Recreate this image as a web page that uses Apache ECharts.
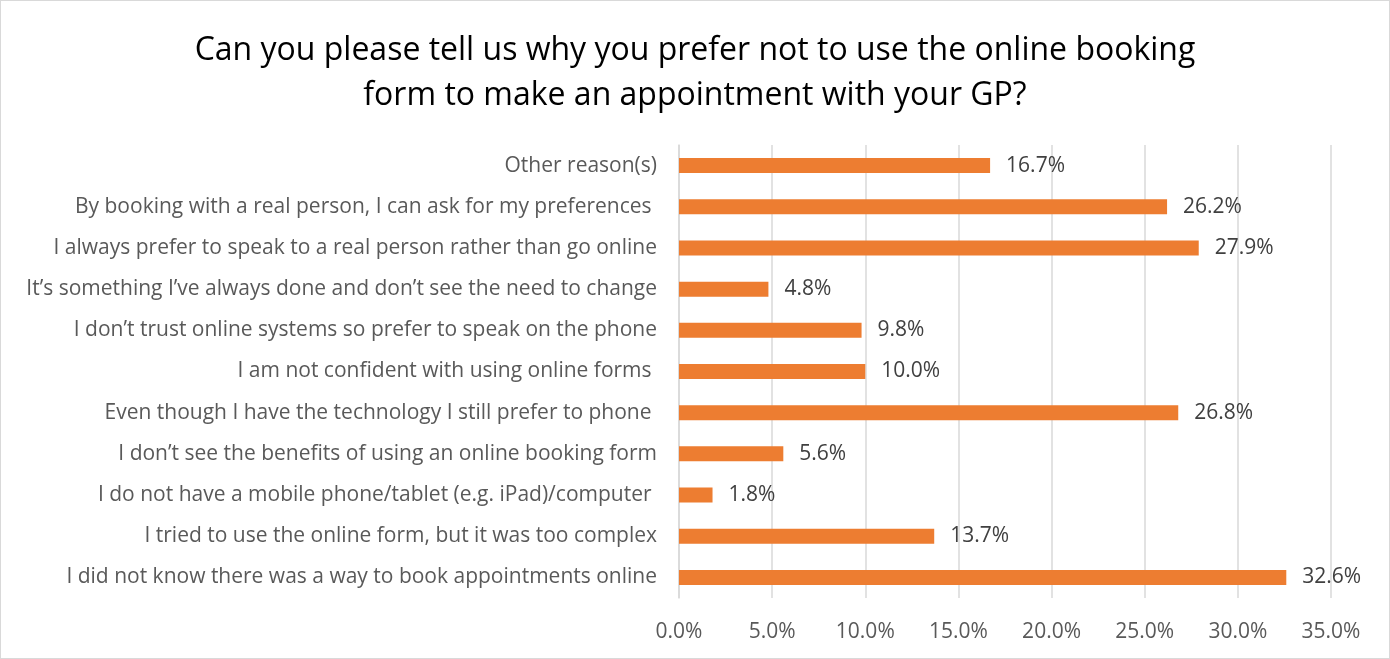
<!DOCTYPE html>
<head>
    <meta charset="utf-8">
    <title>ECharts</title>
    <script src="https://cdn.jsdelivr.net/npm/echarts@6/dist/echarts.min.js"></script>
    <style>
        body { margin: 0; }
        #main { width: 1388px; height: 657px; border: 1px solid #d9d9d9; }
    </style>
</head>
<body>
<div id="main"></div>
<script type="text/javascript">
// categories from bottom to top (as the axis draws them)
var reasons = [
    'I did not know there was a way to book appointments online',
    'I tried to use the online form, but it was too complex',
    'I do not have a mobile phone/tablet (e.g. iPad)/computer ',
    'I don\u2019t see the benefits of using an online booking form',
    'Even though I have the technology I still prefer to phone ',
    'I am not confident with using online forms ',
    'I don\u2019t trust online systems so prefer to speak on the phone',
    'It\u2019s something I\u2019ve always done and don\u2019t see the need to change',
    'I always prefer to speak to a real person rather than go online',
    'By booking with a real person, I can ask for my preferences ',
    'Other reason(s)'
];
var shares = [32.6, 13.7, 1.8, 5.6, 26.8, 10.0, 9.8, 4.8, 27.9, 26.2, 16.7];
var xTicks = [0, 5, 10, 15, 20, 25, 30, 35];

var myChart = echarts.init(document.getElementById('main'));
var font = 'Open Sans';
var option = {
    backgroundColor: '#fff',
    animation: false,
    title: {
        text: 'Can you please tell us why you prefer not to use the online booking\nform to make an appointment with your GP?',
        left: 'center',
        top: 22,
        textStyle: {
            fontFamily: font,
            fontSize: 32,
            fontWeight: 'normal',
            color: '#000',
            lineHeight: 45,
            align: 'center'
        }
    },
    grid: { left: 678, right: 58, top: 144, bottom: 60 },
    xAxis: {
        type: 'value',
        min: xTicks[0],
        max: xTicks[xTicks.length - 1],
        interval: 5,
        axisLine: { show: false },
        axisTick: { show: false },
        splitLine: { lineStyle: { color: '#d9d9d9', width: 1.5 } },
        axisLabel: {
            margin: 24,
            fontFamily: font,
            fontSize: 21,
            color: '#595959',
            formatter: function (v) { return v.toFixed(1) + '%'; }
        }
    },
    yAxis: {
        type: 'category',
        data: reasons,
        axisLine: { show: true, lineStyle: { color: '#d9d9d9', width: 1.5 } },
        axisTick: { show: false },
        axisLabel: {
            margin: 22,
            fontFamily: font,
            fontSize: 21,
            color: '#595959'
        }
    },
    series: [{
        type: 'bar',
        data: shares,
        barWidth: 15,
        itemStyle: { color: '#ed7d31' },
        label: {
            show: true,
            position: 'right',
            distance: 16,
            fontFamily: font,
            fontSize: 21,
            color: '#404040',
            formatter: function (p) { return p.value.toFixed(1) + '%'; }
        }
    }]
};
myChart.setOption(option);
</script>
</body>
